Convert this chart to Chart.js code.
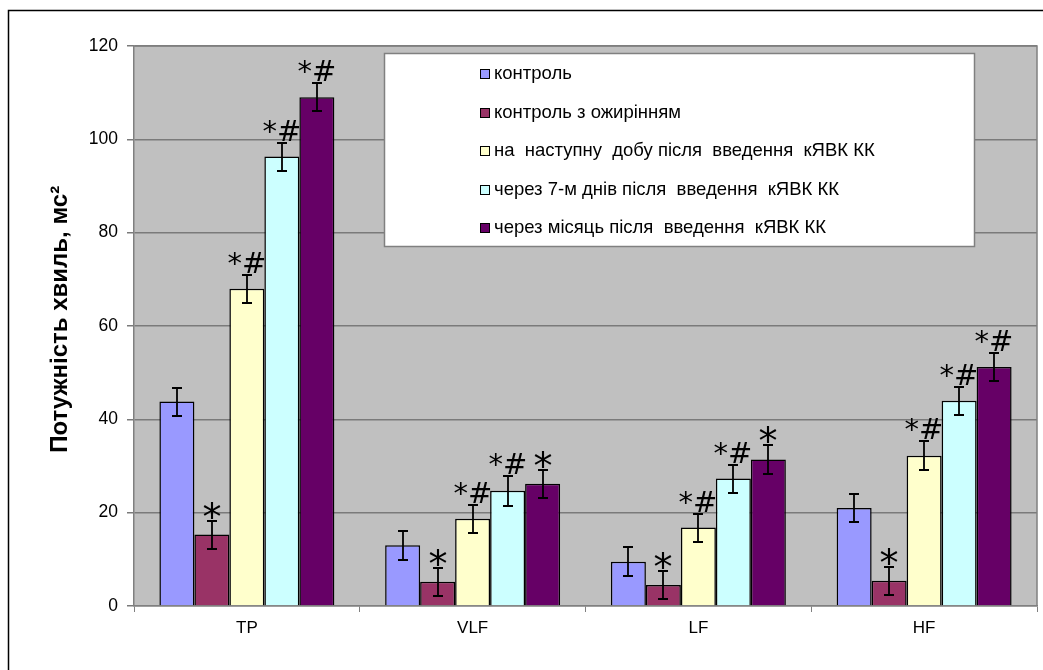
<!DOCTYPE html>
<html>
<head>
<meta charset="utf-8">
<script src="https://cdn.jsdelivr.net/npm/chart.js@4.4.1/dist/chart.umd.min.js"></script>
<style>
  html, body { margin: 0; padding: 0; background: #fff; }
  canvas { display: block; }
</style>
</head>
<body>
<canvas id="chart" width="1043" height="670"></canvas>
<script>
// Wave power by frequency band, five observation groups
const categories = ['TP', 'VLF', 'LF', 'HF'];
const seriesLabels = [
  'контроль',
  'контроль з ожирінням',
  'на  наступну  добу після  введення  кЯВК КК',
  'через 7-м днів після  введення  кЯВК КК',
  'через місяць після  введення  кЯВК КК'
];
const seriesColors = ['#9999FF', '#993366', '#FFFFCC', '#CCFFFF', '#660066'];

const control   = [43.8, 13.0,  9.5, 21.0];
const obese     = [15.3,  5.2,  4.5,  5.4];
const nextDay   = [68.0, 18.7, 16.8, 32.2];
const week      = [96.3, 24.7, 27.3, 44.0];
const month     = [109.0, 26.2, 31.4, 51.2];

// standard errors
const controlErr = [3.0, 3.1, 3.1, 3.0];
const obeseErr   = [3.0, 3.0, 3.0, 3.0];
const nextDayErr = [3.0, 3.0, 3.0, 3.1];
const weekErr    = [3.0, 3.2, 3.0, 3.0];
const monthErr   = [3.0, 3.0, 3.1, 3.0];

// significance marks: * vs control, # vs obese control
const controlMarks = ['', '', '', ''];
const obeseMarks   = ['*', '*', '*', '*'];
const nextDayMarks = ['*#', '*#', '*#', '*#'];
const weekMarks    = ['*#', '*#', '*#', '*#'];
const monthMarks   = ['*#', '*', '*', '*#'];

const yTicks = { min: 0, max: 120, step: 20 };
const yTitle = '  Потужність хвиль, мс²';

const seriesValues = [control, obese, nextDay, week, month];
const seriesErrors = [controlErr, obeseErr, nextDayErr, weekErr, monthErr];
const seriesMarks  = [controlMarks, obeseMarks, nextDayMarks, weekMarks, monthMarks];

const SANS = "'Liberation Sans', Arial, sans-serif";

const frame = {
  id: 'frame',
  beforeDraw(chart) {
    const { ctx, chartArea: a } = chart;
    ctx.save();
    ctx.fillStyle = '#fff';
    ctx.fillRect(0, 0, chart.width, chart.height);
    ctx.fillStyle = '#C0C0C0';
    ctx.fillRect(a.left, a.top, a.right - a.left, a.bottom - a.top);
    // outer border
    ctx.strokeStyle = '#000';
    ctx.lineWidth = 1.5;
    ctx.strokeRect(8.5, 10.5, chart.width + 20, chart.height + 20);
    ctx.restore();
  },
  beforeDatasetsDraw(chart) {
    const { ctx, chartArea: a } = chart;
    ctx.save();
    ctx.strokeStyle = '#808080';
    ctx.lineWidth = 1.5;
    ctx.beginPath();
    ctx.moveTo(a.left, a.top);
    ctx.lineTo(a.right, a.top);
    ctx.lineTo(a.right, a.bottom);
    ctx.stroke();
    ctx.restore();
  }
};

const errorBars = {
  id: 'errorBars',
  afterDatasetsDraw(chart) {
    const { ctx } = chart;
    const y = chart.scales.y;
    ctx.save();
    ctx.strokeStyle = '#000';
    ctx.fillStyle = '#000';
    ctx.lineWidth = 1.8;
    chart.data.datasets.forEach((ds, di) => {
      const meta = chart.getDatasetMeta(di);
      meta.data.forEach((bar, i) => {
        const v = ds.data[i];
        const e = seriesErrors[di][i];
        const yt = Math.round(y.getPixelForValue(v + e));
        const yb = Math.round(y.getPixelForValue(v - e));
        const x = Math.round(bar.x);
        ctx.beginPath();
        ctx.moveTo(x, yt); ctx.lineTo(x, yb);
        ctx.moveTo(x - 5, yt); ctx.lineTo(x + 5, yt);
        ctx.moveTo(x - 5, yb); ctx.lineTo(x + 5, yb);
        ctx.stroke();

        const mark = seriesMarks[di][i];
        if (mark) {
          ctx.font = mark === '*' ? "38px 'DejaVu Sans'" : "29px 'DejaVu Sans'";
          ctx.textAlign = 'center';
          ctx.textBaseline = 'alphabetic';
          const m = ctx.measureText(mark);
          const bottom = yt - 2;
          ctx.fillText(mark, x, bottom - m.actualBoundingBoxDescent);
        }
      });
    });
    ctx.restore();
  }
};

const boxLegend = {
  id: 'boxLegend',
  afterDraw(chart) {
    const { ctx } = chart;
    const box = { x: 384.5, y: 53.5, w: 590, h: 193 };
    ctx.save();
    ctx.fillStyle = '#fff';
    ctx.fillRect(box.x, box.y, box.w, box.h);
    ctx.strokeStyle = '#808080';
    ctx.lineWidth = 1.5;
    ctx.strokeRect(box.x, box.y, box.w, box.h);
    ctx.font = '18.5px ' + SANS;
    ctx.textBaseline = 'middle';
    ctx.textAlign = 'left';
    chart.data.datasets.forEach((ds, i) => {
      const cy = 74 + i * 38.5;
      ctx.fillStyle = ds.backgroundColor;
      ctx.fillRect(480.5, Math.round(cy) - 4.5, 9, 9);
      ctx.strokeStyle = '#000';
      ctx.lineWidth = 1;
      ctx.strokeRect(480.5, Math.round(cy) - 4.5, 9, 9);
      ctx.fillStyle = '#000';
      ctx.fillText(ds.label, 494, cy);
    });
    ctx.restore();
  }
};

new Chart(document.getElementById('chart'), {
  type: 'bar',
  data: {
    labels: categories,
    datasets: seriesValues.map((vals, i) => ({
      label: seriesLabels[i],
      data: vals,
      backgroundColor: seriesColors[i],
      borderColor: '#000',
      borderWidth: 1.5,
      categoryPercentage: 0.775,
      barPercentage: 1.0
    }))
  },
  options: {
    responsive: false,
    devicePixelRatio: 1,
    animation: false,
    layout: { padding: { top: 46, right: 6, left: 0, bottom: 0 } },
    plugins: {
      legend: { display: false },
      tooltip: { enabled: false }
    },
    scales: {
      x: {
        grid: { drawOnChartArea: false, offset: true, tickLength: 6, color: '#808080', lineWidth: 1 },
        border: { color: '#808080', width: 1.5 },
        ticks: { color: '#000', font: { family: SANS, size: 17 }, padding: 6 },
        afterFit(scale) { scale.height = 64; }
      },
      y: {
        min: yTicks.min,
        max: yTicks.max,
        ticks: { stepSize: yTicks.step, color: '#000', font: { family: SANS, size: 17.5 }, padding: 9 },
        grid: { color: '#7a7a7a', lineWidth: 1.5, tickLength: 7 },
        border: { color: '#808080', width: 1.5 },
        title: {
          display: true,
          text: yTitle,
          color: '#000',
          font: { family: SANS, size: 24, weight: 'bold' },
          padding: { top: 46, bottom: 0 }
        },
        afterFit(scale) { scale.width = 134; }
      }
    }
  },
  plugins: [frame, errorBars, boxLegend]
});
</script>
</body>
</html>
